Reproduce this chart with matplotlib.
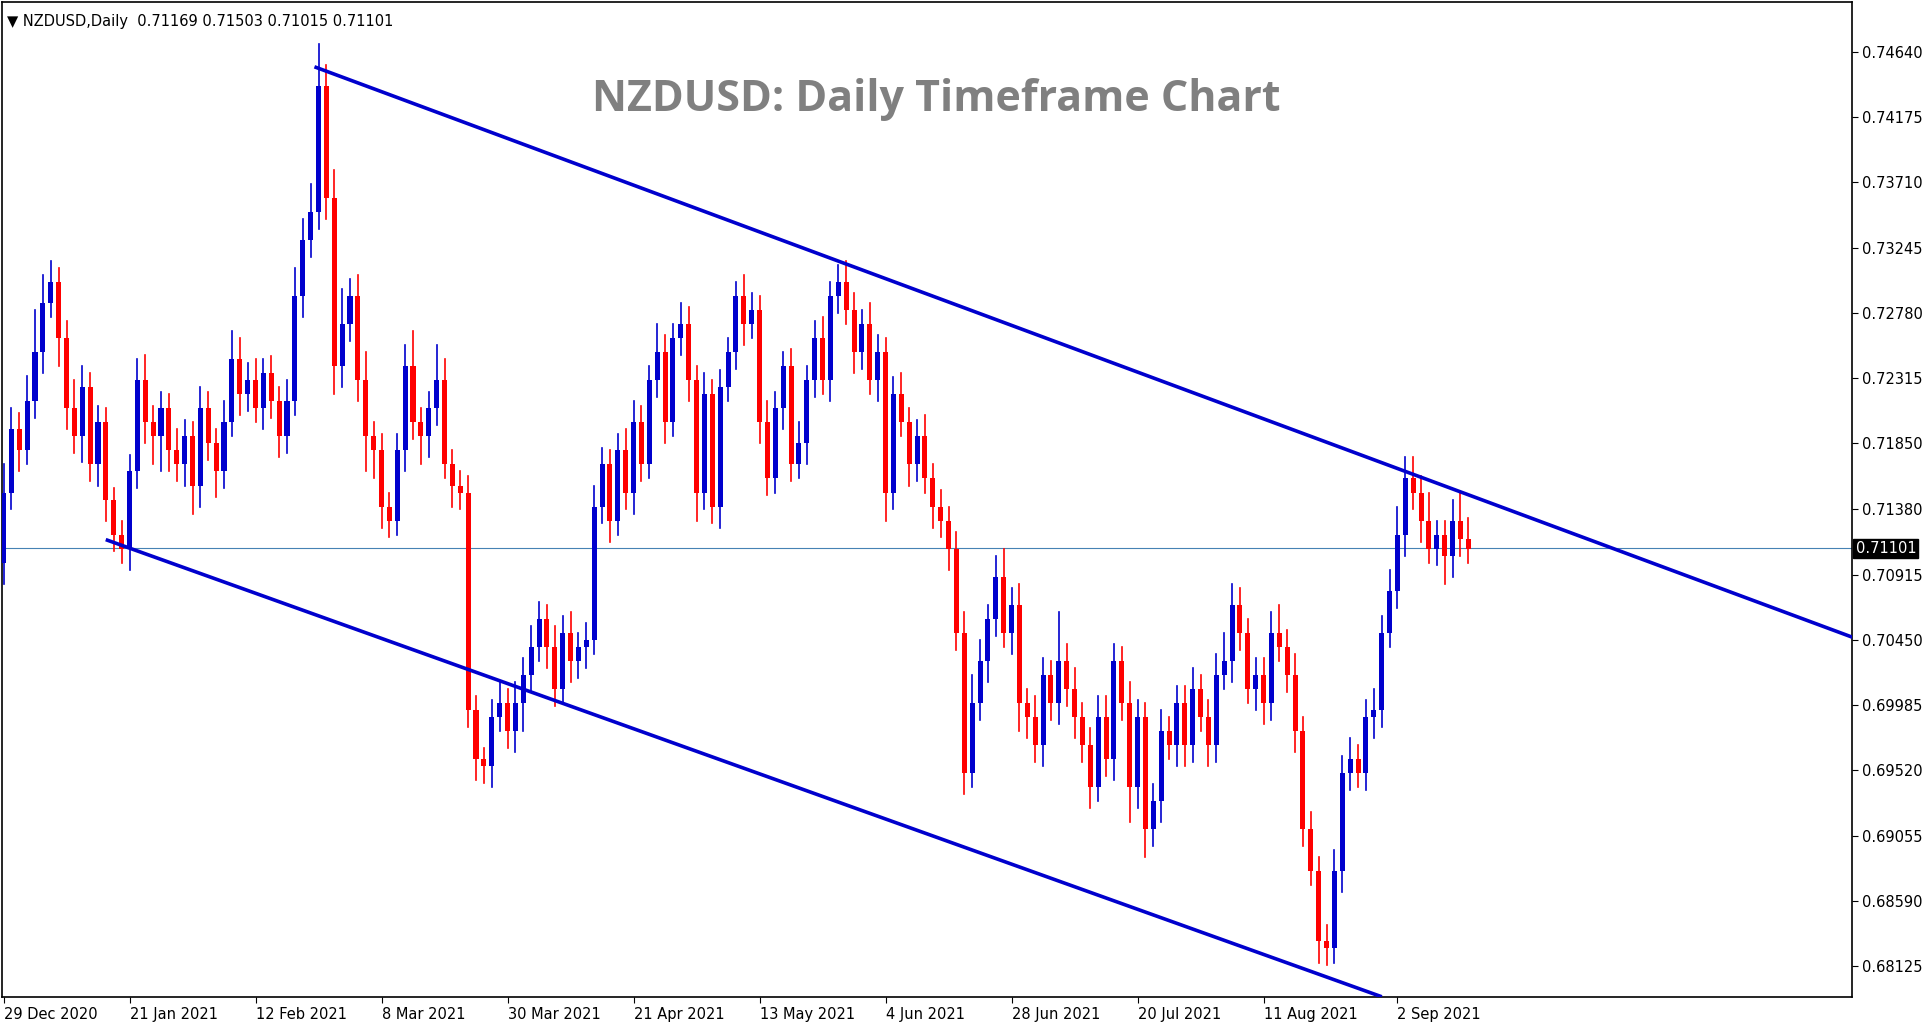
import matplotlib
matplotlib.use("Agg")
import matplotlib.pyplot as plt
from matplotlib.patches import Rectangle

closes = [0.7150,0.7195,0.7180,0.7215,0.7250,0.7285,0.7300,0.7260,0.7210,0.7190,
0.7225,0.7170,0.7200,0.7145,0.7120,0.7110,0.7165,0.7230,0.7200,0.7190,
0.7210,0.7180,0.7170,0.7190,0.7155,0.7210,0.7185,0.7165,0.7200,0.7245,
0.7220,0.7230,0.7210,0.7235,0.7215,0.7190,0.7215,0.7290,0.7330,0.7350,
0.7440,0.7360,0.7240,0.7270,0.7290,0.7230,0.7190,0.7180,0.7140,0.7130,
0.7180,0.7240,0.7200,0.7190,0.7210,0.7230,0.7170,0.7155,0.7150,0.6995,
0.6960,0.6955,0.6990,0.7000,0.6980,0.7000,0.7020,0.7040,0.7060,0.7040,
0.7010,0.7050,0.7030,0.7040,0.7045,0.7140,0.7170,0.7130,0.7180,0.7150,
0.7200,0.7170,0.7230,0.7250,0.7200,0.7260,0.7270,0.7230,0.7150,0.7220,
0.7140,0.7225,0.7250,0.7290,0.7270,0.7280,0.7200,0.7160,0.7210,0.7240,
0.7170,0.7185,0.7230,0.7260,0.7230,0.7290,0.7300,0.7280,0.7250,0.7270,
0.7230,0.7250,0.7150,0.7220,0.7200,0.7170,0.7190,0.7160,0.7140,0.7130,
0.7110,0.7050,0.6950,0.7000,0.7030,0.7060,0.7090,0.7050,0.7070,0.7000,
0.6990,0.6970,0.7020,0.7000,0.7030,0.7010,0.6990,0.6970,0.6940,0.6990,
0.6960,0.7030,0.7000,0.6940,0.6990,0.6910,0.6930,0.6980,0.6970,0.7000,
0.6970,0.7010,0.6990,0.6970,0.7020,0.7030,0.7070,0.7050,0.7010,0.7020,
0.7000,0.7050,0.7040,0.7020,0.6980,0.6910,0.6880,0.6830,0.6825,0.6880,
0.6950,0.6960,0.6950,0.6990,0.6995,0.7050,0.7080,0.7120,0.7160,0.7150,
0.7130,0.7110,0.7120,0.7105,0.7130,0.7117,0.7110]
first_open = 0.7100
# wick extensions in pips (1e-4)
wick_up = [20,15,12,18,30,20,15,10,12,20, 15,10,12,10,8,10,12,15,18,12,
12,10,15,12,10,15,12,10,15,20, 15,12,15,10,12,10,15,20,15,20,
30,15,20,25,12,15,20,10,12,10, 12,15,25,10,12,25,15,10,10,12,
10,8,12,15,10,15,12,15,12,10, 15,12,15,10,12,15,12,10,12,15,
15,12,10,20,12,10,15,12,10,15, 10,12,10,10,15,12,10,15,12,10,
12,15,10,12,15,10,12,15,12,10, 15,12,10,12,15,10,12,15,10,12,
10,12,15,20,15,10,15,20,12,15, 10,15,12,10,35,12,15,10,12,15,
15,12,10,15,12,10,12,15,10,12, 12,15,10,12,15,20,15,12,10,12,
12,15,20,12,15,10,12,10,12,15, 12,15,10,12,15,12,15,20,15,15,
12,20,10,10,15,20,15]
wick_dn = [15,12,15,10,12,15,10,20,15,12, 18,12,15,15,12,10,15,12,15,20,
25,15,12,15,20,15,12,18,12,10, 15,12,10,15,12,15,12,10,15,12,
12,15,20,15,12,15,25,20,15,12, 10,15,12,20,15,12,10,15,12,12,
15,12,15,10,12,15,20,12,10,15, 12,10,15,12,15,10,12,15,10,12,
15,12,10,12,15,10,12,15,20,12, 12,15,10,12,15,10,15,12,10,15,
12,10,15,12,10,15,12,10,15,12, 10,15,20,12,10,15,12,10,15,12,
15,12,15,10,12,15,12,10,15,20, 15,12,15,12,15,12,15,12,15,10,
12,15,12,25,15,20,12,15,10,15, 15,12,10,15,12,10,15,12,10,15,
15,12,10,12,15,12,10,15,12,10, 15,12,10,12,15,12,10,12,15,12,
15,10,12,20,15,12,10]

tick_idx = [0,16,32,48,64,80,96,112,128,144,160,177]
tick_labels = ["29 Dec 2020","21 Jan 2021","12 Feb 2021","8 Mar 2021","30 Mar 2021",
"21 Apr 2021","13 May 2021","4 Jun 2021","28 Jun 2021","20 Jul 2021","11 Aug 2021","2 Sep 2021"]
y_ticks = [0.74640,0.74175,0.73710,0.73245,0.72780,0.72315,0.71850,0.71380,0.70915,0.70450,0.69985,0.69520,0.69055,0.68590,0.68125]
upper_line = [(39.7,0.7453),(234.7,0.7047)]
lower_line = [(13.2,0.7116),(174.8,0.6791)]
last_price = 0.71101

BLUE = "#0000CD"; RED = "#FF0000"
fig = plt.figure(figsize=(19.33,10.23), dpi=100)
ax = fig.add_axes([0.001,0.0254,0.957,0.9726])
ax.set_xlim(-0.2,234.7); ax.set_ylim(0.67904,0.74996)

prev = first_open
for i,c in enumerate(closes):
    o = prev
    hi = max(o,c)+wick_up[i]*1e-4
    lo = min(o,c)-wick_dn[i]*1e-4
    col = BLUE if c>=o else RED
    ax.plot([i,i],[lo,hi],color=col,lw=1.2,zorder=2)
    ax.add_patch(Rectangle((i-0.32,min(o,c)),0.64,max(abs(c-o),0.00005),color=col,lw=0,zorder=3))
    prev = c

for ln in (upper_line, lower_line):
    ax.plot([ln[0][0],ln[1][0]],[ln[0][1],ln[1][1]],color="#0000CD",lw=2.6,zorder=4,clip_on=True)
ax.axhline(last_price,color="#4682B4",lw=0.8,zorder=1)

ax.yaxis.tick_right()
ax.set_yticks(y_ticks); ax.set_yticklabels([f"{v:.5f}" for v in y_ticks])
ax.set_xticks(tick_idx); ax.set_xticklabels(tick_labels,ha="left")
ax.tick_params(labelsize=10.5, length=4, color="black")
for s in ax.spines.values(): s.set_linewidth(1.2)
ax.text(1.002,last_price,f"{last_price:.5f}",transform=ax.get_yaxis_transform(),va="center",ha="left",
        fontsize=10.5,color="white",bbox=dict(boxstyle="square,pad=0.15",fc="black",ec="black"))
ax.text(0.505,0.902,"NZDUSD: Daily Timeframe Chart",transform=ax.transAxes,ha="center",va="center",
        fontsize=31,fontweight="bold",color="#808080",family="Open Sans")
ax.text(0.003,0.988,"▼ NZDUSD,Daily  0.71169 0.71503 0.71015 0.71101",transform=ax.transAxes,
        ha="left",va="top",fontsize=10.5)
fig.savefig("out.png",dpi=100)
